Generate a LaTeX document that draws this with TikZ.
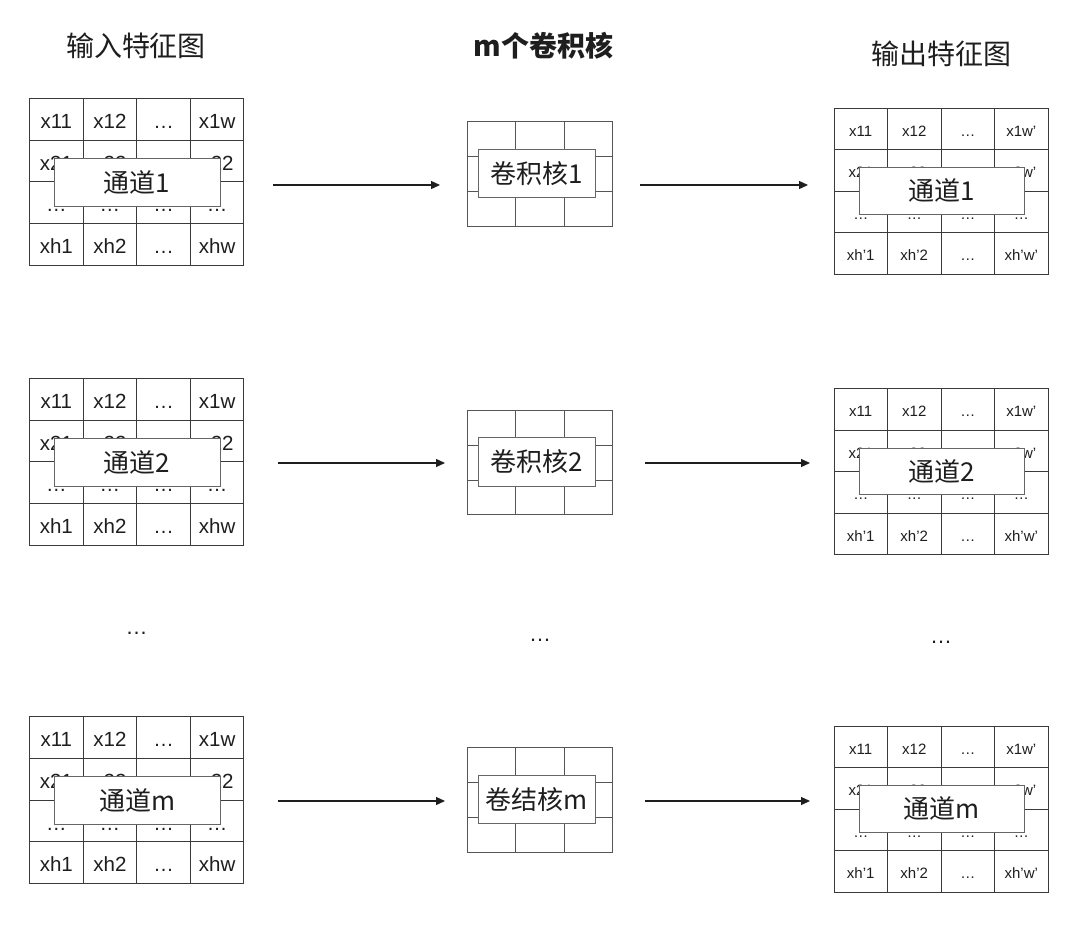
\documentclass[tikz,border=0pt]{standalone}
\usepackage{fontspec}
\setmainfont{Liberation Sans}
\newfontfamily\cjk{Noto Sans CJK SC}
\usetikzlibrary{arrows.meta}
\definecolor{txtc}{HTML}{1E1E1E}
\definecolor{gridc}{HTML}{3A3A3A}
\definecolor{kgridc}{HTML}{555555}
\definecolor{boxc}{HTML}{666666}
\tikzset{
  gridline/.style={draw=gridc, line width=0.9pt},
  kgridline/.style={draw=kgridc, line width=0.9pt},
  incell/.style={inner sep=0pt, text=txtc, font=\fontsize{20.5}{20.5}\selectfont, text height=14.7pt, text depth=0pt},
  outcell/.style={inner sep=0pt, text=txtc, font=\fontsize{15}{15}\selectfont, text height=10.7pt, text depth=0pt},
  chanbox/.style={draw=boxc, line width=0.9pt, fill=white, inner sep=0pt, text=txtc, font=\cjk\fontsize{26}{26}\selectfont},
  titletext/.style={inner sep=0pt, text=txtc, font=\cjk\fontsize{28}{28}\selectfont},
  dotstext/.style={inner sep=0pt, text=txtc, font=\fontsize{22}{22}\selectfont},
  arr/.style={draw=txtc, line width=1.3pt, -{Triangle[length=9pt,width=8pt]}}
}
\begin{document}
\begin{tikzpicture}[x=1pt,y=-1pt]
\useasboundingbox (0,0) rectangle (1080,926);
\fill[white] (0,0) rectangle (1080,926);

% titles
\node[titletext] (t1) at (136,46) {输入特征图};
\node[titletext, font=\cjk\bfseries\fontsize{28}{28}\selectfont] (t2) at (543.5,46) {m个卷积核};
\node[titletext] (t3) at (941,53.5) {输出特征图};

\foreach \row/\ti/\tk/\tout/\ay/\asa/\aea/\asb/\aeb/\lab/\klab in {
  1/98.3/121.7/108/185/273/440/640/808/1/卷积核1,
  2/378.3/410.5/388.5/463/278/445/645/810/2/卷积核2,
  3/716.7/747.7/726/801/278/445/645/810/m/卷结核m}
{
  % ---------- input feature map ----------
  \node[draw=gridc, line width=0.9pt, inner sep=0pt, minimum width=214.4pt, minimum height=166.7pt] (in\row) at (136.7,\ti+83.35) {};
  \foreach \kk in {1,2,3} {
    \draw[gridline] (29.5+\kk*53.6,\ti) -- (29.5+\kk*53.6,\ti+166.7);
    \draw[gridline] (29.5,\ti+\kk*41.675) -- (243.9,\ti+\kk*41.675);
  }
  \foreach \rr/\ca/\cb/\cc/\cd in {1/x11/x12/…/x1w, 2/x21/x22/…/x22, 3/…/…/…/…, 4/xh1/xh2/…/xhw} {
    \foreach \col/\txt in {1/\ca,2/\cb,3/\cc,4/\cd} {
      \node[incell] (in\row-\rr-\col) at (29.5+\col*53.6-26.8,\ti+\rr*41.675-20.84+2) {\txt};
    }
  }
  \node[chanbox, minimum width=165.7pt, minimum height=47.7pt] (chin\row) at (137.2,\ti+83.9) {通道\lab};

  % ---------- kernel ----------
  \node[draw=kgridc, line width=0.9pt, inner sep=0pt, minimum width=144.6pt, minimum height=104.3pt] (k\row) at (540,\tk+52.15) {};
  \foreach \kk in {1,2} {
    \draw[kgridline] (467.7+\kk*48.2,\tk) -- (467.7+\kk*48.2,\tk+104.3);
    \draw[kgridline] (467.7,\tk+\kk*34.77) -- (612.3,\tk+\kk*34.77);
  }
  \node[chanbox, minimum width=117.4pt, minimum height=48.3pt] (kl\row) at (537,\tk+51.5) {\klab};

  % ---------- output feature map ----------
  \node[draw=gridc, line width=0.9pt, inner sep=0pt, minimum width=214pt, minimum height=166pt] (out\row) at (941,\tout+83) {};
  \foreach \kk in {1,2,3} {
    \draw[gridline] (834+\kk*53.5,\tout) -- (834+\kk*53.5,\tout+166);
    \draw[gridline] (834,\tout+\kk*41.5) -- (1048,\tout+\kk*41.5);
  }
  \foreach \rr/\ca/\cb/\cc/\cd in {1/x11/x12/…/x1w’, 2/x21/x22/…/x2w’, 3/…/…/…/…, 4/xh’1/xh’2/…/xh’w’} {
    \foreach \col/\txt in {1/\ca,2/\cb,3/\cc,4/\cd} {
      \node[outcell] (out\row-\rr-\col) at (834+\col*53.5-26.75,\tout+\rr*41.5-20.75+2) {\txt};
    }
  }
  \node[chanbox, minimum width=165pt, minimum height=46.3pt] (chout\row) at (941.5,\tout+82.9) {通道\lab};

  % ---------- arrows ----------
  \coordinate (a\row-1s) at (\asa,\ay);
  \coordinate (a\row-1e) at (\aea,\ay);
  \coordinate (a\row-2s) at (\asb,\ay);
  \coordinate (a\row-2e) at (\aeb,\ay);
  \draw[arr] (a\row-1s) -- (a\row-1e);
  \draw[arr] (a\row-2s) -- (a\row-2e);
}

% ellipses between rows
\node[dotstext] (d1) at (136.7,633) {…};
\node[dotstext] (d2) at (540,640) {…};
\node[dotstext] (d3) at (941,642) {…};
\end{tikzpicture}
\end{document}
